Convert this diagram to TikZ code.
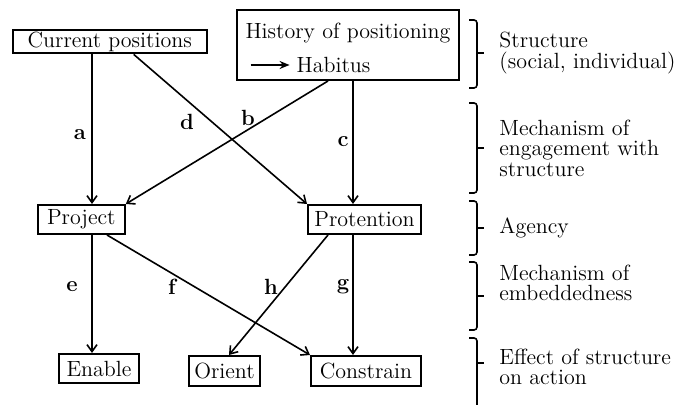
\documentclass[tikz,border=0pt]{standalone}
\usepackage{tikz}
\usetikzlibrary{arrows.meta}

\begin{document}
\begin{tikzpicture}[x=0.5pt,y=-0.5pt,
    font=\fontsize{11}{12.5}\selectfont,
    box/.style={draw,line width=1pt,inner xsep=2pt,inner ysep=1pt,minimum height=14.5pt},
    arr/.style={line width=0.8pt,-{Straight Barb[length=3.5pt,width=5pt]}},
    lbl/.style={font=\fontsize{11}{12.5}\selectfont\bfseries},
    brk/.style={line width=0.8pt,rounded corners=1.5pt},
    side/.style={anchor=west,inner sep=0pt,align=left,font=\fontsize{11}{10.3}\selectfont}]
    \useasboundingbox (0,0) rectangle (687,405);

    % Structure
    \node[box,minimum width=97pt,minimum height=11.5pt] (cur) at (109.7,41.5) {Current positions};
    \node[box,minimum width=111pt,minimum height=35pt] (hist) at (348,45) {};
    \node (histtxt) at (348,33) {History of positioning};
    \node (habitus) at (333.5,65) {Habitus};
    \draw[line width=0.8pt,-{Stealth[length=5pt,width=4pt]}] ([xshift=-19.5pt]habitus.west) -- (habitus.west);

    % Agency
    \node[box,minimum width=43.5pt] (proj) at (81.3,219.5) {Project};
    \node[box,minimum width=56.5pt] (prot) at (364.5,219.5) {Protention};

    % Effects
    \node[box,minimum width=40pt] (enab) at (99,368.5) {Enable};
    \node[box,minimum width=35.5pt,minimum height=15pt] (orie) at (224.5,371) {Orient};
    \node[box,minimum width=55pt,minimum height=15pt] (cons) at (366,371) {Constrain};

    % Vertical columns
    \coordinate (colA) at (92,0);
    \coordinate (colC) at (353,0);

    % Connectors
    \draw[arr] (cur.south -| colA) -- (proj.north -| colA);
    \draw[arr] ([xshift=12pt]cur.south) -- (prot.north west);
    \draw[arr] ([xshift=-10pt]hist.south) -- (proj.north east);
    \draw[arr] (hist.south -| colC) -- (prot.north -| colC);
    \draw[arr] (proj.south -| colA) -- (enab.north -| colA);
    \draw[arr] ([xshift=12.85pt]proj.south) -- (cons.north west);
    \draw[arr] ([xshift=-18.25pt]prot.south) -- ([xshift=2.25pt]orie.north);
    \draw[arr] (prot.south -| colC) -- (cons.north -| colC);

    % Labels
    \node[lbl] (la) at (80,135) {a};
    \node[lbl] (lb) at (248,118) {b};
    \node[lbl] (lc) at (343,142) {c};
    \node[lbl] (ld) at (187,122) {d};
    \node[lbl] (le) at (72,287) {e};
    \node[lbl] (lf) at (172,287) {f};
    \node[lbl] (lg) at (343,287) {g};
    \node[lbl] (lh) at (271,287) {h};

    % Brackets
    \foreach \t/\m/\b in {20/53/88,103/148/193,201/228/255,262/296/330} {
        \draw[brk] (469,\t) -- (477,\t) -- (477,\b) -- (469,\b);
        \draw[line width=0.8pt] (477,\m) -- (484,\m);
    }
    \draw[brk] (469,338) -- (477,338) -- (477,405);
    \draw[line width=0.8pt] (477,363) -- (484,363);

    % Levels
    \node[side] (lvstruct) at (499,53) {Structure\\(social, individual)};
    \node[side] (lvengage) at (499,148) {Mechanism of\\engagement with\\structure};
    \node[side] (lvagency) at (499,228) {Agency};
    \node[side] (lvembed) at (499,283) {Mechanism of\\embeddedness};
    \node[side] (lveffect) at (499,367) {Effect of structure\\on action};
\end{tikzpicture}
\end{document}
